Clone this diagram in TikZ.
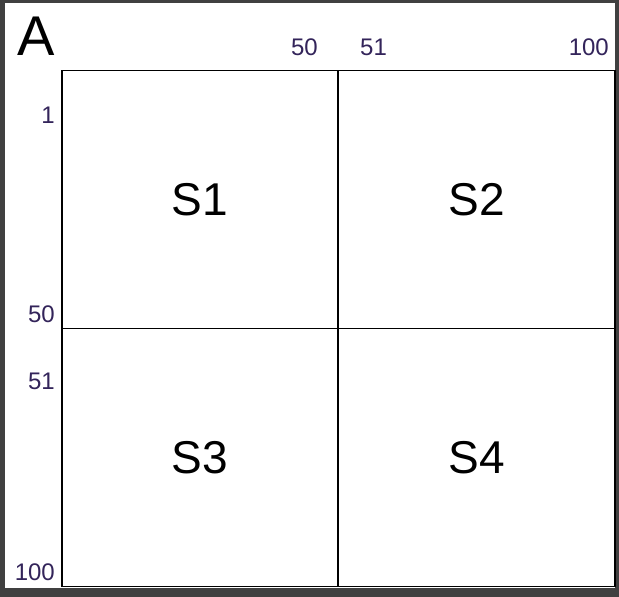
\documentclass[tikz,border=0pt]{standalone}
\usepackage{fontspec}
\setmainfont{Liberation Sans}
\usepackage{xcolor}
\usepackage{tikz}
\usetikzlibrary{positioning}
\definecolor{framegray}{HTML}{404040}
\definecolor{numcol}{HTML}{33245A}

\begin{document}
\begin{tikzpicture}[x=1pt,y=-1pt,
quad/.style={draw,line width=1.6pt,outer sep=0pt,minimum width=276.5pt,minimum height=258pt,inner sep=0pt,font=\fontsize{46}{46}\selectfont},
num/.style={inner sep=0pt,text=numcol,font=\fontsize{24}{24}\selectfont}]
\fill[framegray](0,0)rectangle(619,597);
\fill[white](5,3)rectangle(615,588);
\useasboundingbox(0,0)rectangle(619,597);
\node[quad](s1)at(200,199.5){S1};
\node[quad,right=0pt of s1](s2){S2};
\node[quad,below=0pt of s1](s3){S3};
\node[quad,right=0pt of s3](s4){S4};
\node[anchor=base west,inner sep=0pt,font=\fontsize{56}{56}\selectfont](title)at(17,55){A};
\node[num,anchor=base east](c50)at(318,55){50};
\node[num,anchor=base west](c51)at(360,55){51};
\node[num,anchor=base east](c100)at(609,55){100};
\node[num,anchor=base east](r1)at(55,123){1};
\node[num,anchor=base east](r50)at(55,322){50};
\node[num,anchor=base east](r51)at(55,389){51};
\node[num,anchor=base east](r100)at(55,580){100};
\end{tikzpicture}
\end{document}
